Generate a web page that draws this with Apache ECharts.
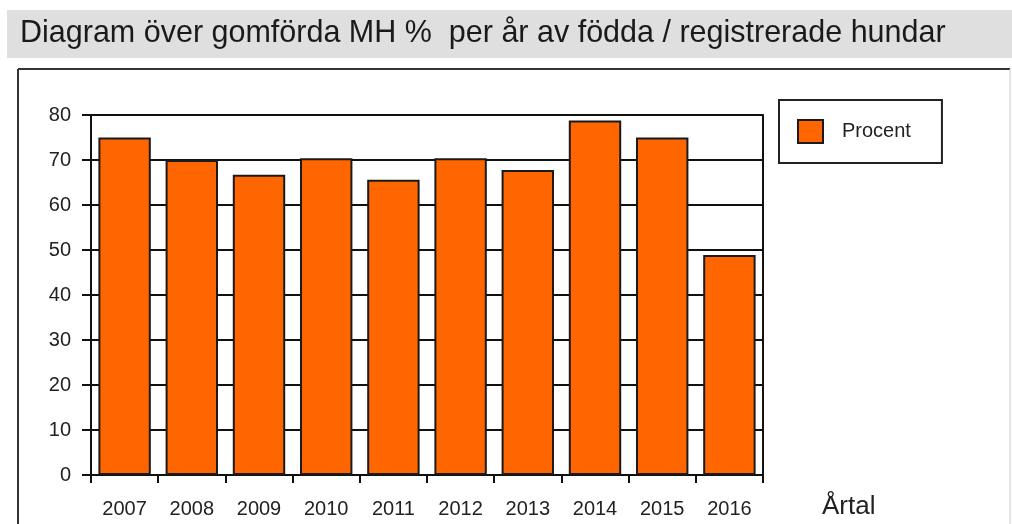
<!DOCTYPE html>
<html>
<head>
<meta charset="utf-8">
<script src="https://cdn.jsdelivr.net/npm/echarts@6/dist/echarts.min.js"></script>
<style>
  html, body { margin: 0; padding: 0; background: #fff; }
  #chart { width: 1012px; height: 524px; }
</style>
</head>
<body>
<div id="chart"></div>
<script>
// data
const years = ['2007', '2008', '2009', '2010', '2011', '2012', '2013', '2014', '2015', '2016']
const procent = [75, 70, 66.7, 70.4, 65.6, 70.4, 67.8, 78.8, 75, 48.9]
const yMin = 0
const yMax = 80
const yStep = 10

const chart = echarts.init(document.getElementById('chart'))

const font = '"Liberation Sans", Arial, sans-serif'

const option = {
  animation: false,
  backgroundColor: '#fff',
  graphic: [
    // grey title band
    { type: 'rect', shape: { x: 7, y: 10, width: 1005, height: 48 }, style: { fill: '#dfdfdf' }, z: 0 },
    { type: 'text', left: 20, top: 18, style: { text: 'Diagram över gomförda MH %  per år av födda / registrerade hundar', font: '30.5px ' + font, fill: '#1a1a1a' } },
    // chart frame
    { type: 'line', shape: { x1: 18, y1: 69, x2: 1010, y2: 69 }, style: { stroke: '#333', lineWidth: 2 } },
    { type: 'line', shape: { x1: 18, y1: 69, x2: 18, y2: 524 }, style: { stroke: '#333', lineWidth: 2 } },
    { type: 'line', shape: { x1: 1010, y1: 69, x2: 1010, y2: 524 }, style: { stroke: '#ccc', lineWidth: 1 } }
  ],
  legend: {
    left: 779,
    top: 100,
    orient: 'vertical',
    data: [{ name: 'Procent', icon: 'rect' }],
    itemWidth: 25,
    itemHeight: 23,
    borderColor: '#222',
    borderWidth: 2,
    borderRadius: 0,
    padding: [19, 31, 19, 18],
    textStyle: { fontFamily: font, fontSize: 20, color: '#222', padding: [0, 0, 0, 14] }
  },
  grid: {
    left: 91,
    right: 249,
    top: 115,
    bottom: 49
  },
  xAxis: {
    type: 'category',
    data: years,
    name: 'Årtal',
    nameLocation: 'end',
    nameGap: 59,
    nameTextStyle: { fontFamily: font, fontSize: 26, color: '#222', verticalAlign: 'top', padding: [19, 0, 0, 0] },
    axisLine: { lineStyle: { color: '#111', width: 2 } },
    axisTick: { show: true, alignWithLabel: false, length: 8, lineStyle: { color: '#111', width: 2 } },
    axisLabel: { fontFamily: font, fontSize: 20, color: '#222', margin: 24 }
  },
  yAxis: [
    {
      type: 'value',
      min: yMin,
      max: yMax,
      interval: yStep,
      axisLine: { show: true, lineStyle: { color: '#111', width: 2 } },
      axisTick: { show: true, length: 9, lineStyle: { color: '#111', width: 2 } },
      axisLabel: { fontFamily: font, fontSize: 20, color: '#222', margin: 20 },
      splitLine: { show: true, lineStyle: { color: '#111', width: 2 } }
    },
    {
      type: 'value',
      position: 'right',
      min: yMin,
      max: yMax,
      interval: yStep,
      axisLine: { show: true, lineStyle: { color: '#111', width: 2 } },
      axisTick: { show: false },
      axisLabel: { show: false },
      splitLine: { show: false }
    }
  ],
  series: [
    {
      name: 'Procent',
      type: 'bar',
      data: procent,
      barCategoryGap: '22%',
      itemStyle: { color: '#ff6600', borderColor: '#1a1a1a', borderWidth: 2 }
    }
  ]
}

chart.setOption(option)
</script>
</body>
</html>
